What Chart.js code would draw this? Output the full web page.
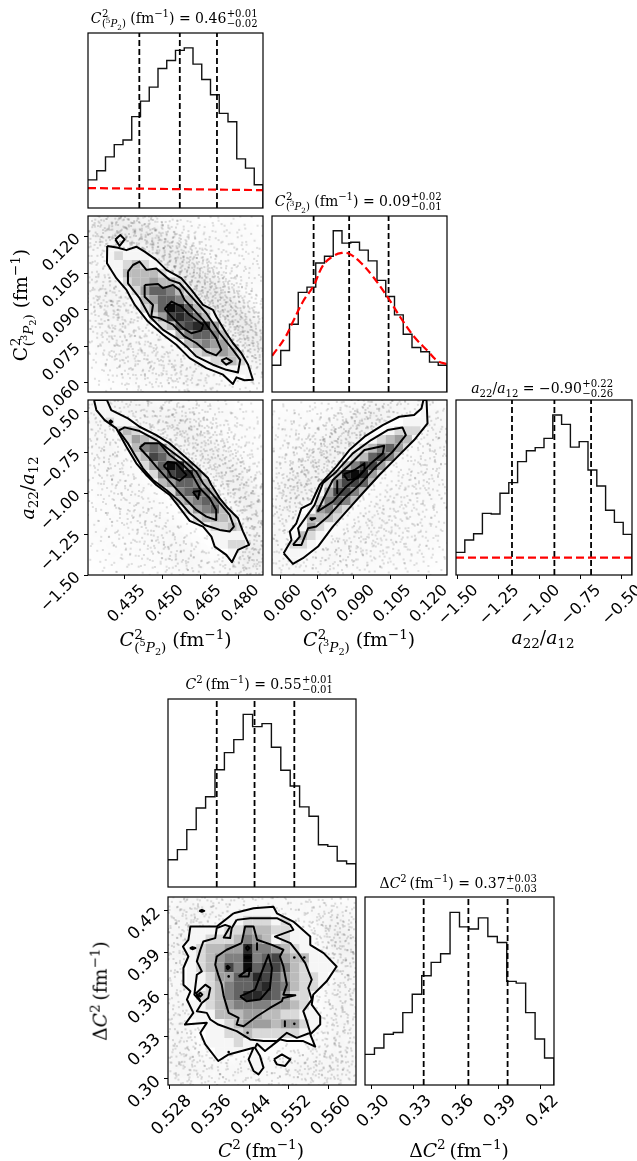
<!DOCTYPE html>
<html><head><meta charset="utf-8">
<script src="https://cdn.jsdelivr.net/npm/chart.js@4"></script>
<style>
html,body{margin:0;padding:0;background:#fff;}
#page{position:relative;width:637px;height:1161px;overflow:hidden;background:#fff;}
canvas{position:absolute;}
.t{position:absolute;white-space:nowrap;font-family:"DejaVu Serif",serif;color:#000;transform:translate(-50%,-50%);line-height:1;}
.t.v{transform:translate(-50%,-50%) rotate(-90deg);}
.title{font-size:14px;}
.lab{font-size:18.8px;}
.st{display:inline-flex;flex-direction:column;vertical-align:middle;font-size:.72em;line-height:.98;text-align:left;margin:0 .16em 0 .04em;}
sup,sub{font-size:.72em;line-height:0;}
</style></head><body><div id="page"></div>
<script>
// ---------- axis ranges and ticks ----------
const rangeC5=[0.4205,0.4897], ticksC5=[0.435,0.45,0.465,0.48], labelsC5=['0.435','0.450','0.465','0.480'];
const rangeC3=[0.0564,0.1283], ticksC3=[0.06,0.075,0.09,0.105,0.12], labelsC3=['0.060','0.075','0.090','0.105','0.120'];
const rangeA=[-1.5,-0.428], rangeAx=[-1.508,-0.433], ticksA=[-1.5,-1.25,-1,-0.75,-0.5], labelsA=['\u22121.50','\u22121.25','\u22121.00','\u22120.75','\u22120.50'];
const rangeC2=[0.5277,0.5655], ticksC2=[0.528,0.536,0.544,0.552,0.56], labelsC2=['0.528','0.536','0.544','0.552','0.560'];
const rangeD=[0.2957,0.4297], ticksD=[0.30,0.33,0.36,0.39,0.42], labelsD=['0.30','0.33','0.36','0.39','0.42'];

// ---------- 1-D histograms (% of panel height, 20 bins) ----------
const histC5=[16.1,21.3,29.2,36.2,38.9,52.2,61.1,69.1,79.7,84.3,90.1,91.5,82.2,73.4,64.7,54.1,49.3,28.1,22.8,13.3];
const histC3=[15.2,23.6,38.5,56.6,59.6,73.3,77.1,91.6,84.6,85.1,80.6,74.5,63.4,54.3,43.8,32.8,25.3,22.9,17,15.2];
const histA=[12.95,20,23.6,35.2,34.9,46.7,52.8,64.8,71,72.8,78.1,91.4,86.1,73.1,76.2,60,50.9,37,30.1,23.2];
const histC2=[14.5,19.9,30.5,42,48,62.4,71.5,78.4,91.8,85.3,86.9,74.3,62.1,53.7,42.6,37.6,22.5,21.6,13.8,12.4];
const histD=[16.3,19.7,27,27.9,38.5,48.3,58.1,65.2,69.8,91.8,84.1,83,88.9,79,75.8,55.1,54.2,38.5,24.5,14.4];
const quantC5=[0.4408,0.4568,0.4715], quantC3=[0.0735,0.0881,0.1043], quantA=[-1.166,-0.907,-0.683], quantC2=[0.5375,0.5451,0.5531], quantD=[0.3373,0.369,0.3968];
const priorC5=[[0.4205,11.4],[0.4897,10.2]];
const priorA=[[-1.508,9.9],[-0.433,9.9]];
const priorC3=[[.05645,20.6],[.0616,30.5],[.06505,40],[.06914,51.4],[.0735,60.4],[.0773,71.8],[.0814,77.1],[.0851,79],[.0881,78.5],[.093,73.3],[.0978,65.7],[.1039,53.9],[.1094,41.9],[.1148,31.4],[.1203,23.4],[.1244,17.7],[.1283,15.8]];

// ---------- 2-D density cells, rows top to bottom, level 0-9 ----------
const cellsC5C3=["00000000000000000000","00000000000000000000","00000000000000000000","00111100000000000000","00121110000000000000","00112321000000000000","00013333210000000000","00002334332100000000","00001246653200000000","00000134665321000000","00000123698632100000","00000002478753100000","00000000236788420000","00000000013566531000","00000000001345442100","00000000000123343210","00000000000011223210","00000000000000111111","00000000000000000011","00000000000000000000"];
const cellsC5A=["01100000000000000000","01110000000000000000","00211000000000000000","00023210000000000000","00012432100000000000","00001356521000000000","00000237642100000000","00000124698420000000","00000012578852100000","00000001346653100000","00000000125675310000","00000000013456531000","00000000001245632100","00000000000123332100","00000000000011223210","00000000000000111110","00000000000000112210","00000000000000001100","00000000000000000000","00000000000000000000"];
const cellsC3A=["00000000000000000100","00000000000000000100","00000000000000011100","00000000000001222100","00000000000123431100","00000000012356420000","00000000023675310000","00000001357742000000","00000013898420000000","00000025776310000000","00000147753100000000","00000256531000000000","00001453210000000000","00013332000000000000","00014210000000000000","00132100000000000000","00221000000000000000","01110000000000000000","01100000000000000000","00000000000000000000"];
const cellsC2D=["00000000000000000000","00000001111100000000","00000111222121000000","00111122433221110000","00112223543121100000","00123344855432110000","01123455956743311100","00123475967753211110","00112446687643221000","00112356678653221000","00022356887642210000","00112345555443210000","00111333443322110000","00011123444344210000","00001122322222110000","00001112111100000000","00000111110000000000","00000000110000000000","00000000010000000000","00000000000000000000"];

// ---------- contours ----------
const c1a=[[.4281,.1162],[.4324,.1155],[.4357,.1145],[.4396,.1159],[.4429,.1139],[.4475,.1105],[.4515,.1064],[.4574,.1030],[.4614,.0982],[.4660,.0920],[.4699,.0900],[.4712,.0873],[.4752,.0804],[.4778,.0764],[.4811,.0723],[.4838,.0675],[.4857,.0613],[.4824,.0611],[.4792,.0623],[.4778,.0596],[.4739,.0634],[.4673,.0661],[.4607,.0702],[.4554,.0757],[.4502,.0798],[.4442,.0852],[.4390,.0920],[.4357,.0982],[.4317,.1030],[.4280,.1091]];
const c1b=[[.4363,.1057],[.4383,.1084],[.4409,.1098],[.4436,.1064],[.4475,.1070],[.4528,.1023],[.4567,.1009],[.4614,.0954],[.4673,.0886],[.4726,.0804],[.4778,.0736],[.4807,.0695],[.4798,.0643],[.4752,.0654],[.4699,.0675],[.4633,.0709],[.4594,.0750],[.4554,.0784],[.4502,.0818],[.4449,.0873],[.4409,.0948],[.4363,.1009]];
const c1c=[[.4429,.1002],[.4482,.1006],[.4502,.0989],[.4541,.1002],[.4567,.0982],[.4587,.0941],[.4660,.0859],[.4712,.0784],[.4732,.0736],[.4712,.0713],[.4673,.0729],[.4633,.0764],[.4587,.0791],[.4541,.0839],[.4488,.0866],[.4455,.0873],[.4462,.0920],[.4429,.0954]];
const c1d=[[.4508,.0904],[.4535,.0934],[.4574,.0914],[.4607,.0879],[.4660,.0839],[.4653,.0815],[.4614,.0804],[.4581,.0825],[.4541,.0866]];
const c1e=[[.4313,.1189],[.4333,.1207],[.4350,.1189],[.4330,.1162]];
const c1f=[[.4732,.0693],[.4752,.0702],[.4774,.0689],[.4752,.0675]];

const c2a=[[.4229,-.4286],[.4238,-.4898],[.4271,-.5510],[.4317,-.6020],[.4357,-.7141],[.4396,-.8160],[.4436,-.8874],[.4475,-.9486],[.4528,-1.0098],[.4574,-1.1015],[.4607,-1.1688],[.4660,-1.2035],[.4693,-1.2646],[.4706,-1.3258],[.4752,-1.3768],[.4774,-1.4216],[.4798,-1.3462],[.4842,-1.3156],[.4818,-1.2340],[.4798,-1.1525],[.4759,-1.0913],[.4726,-1.0301],[.4693,-.9486],[.4680,-.9078],[.4633,-.8364],[.4581,-.7651],[.4528,-.6937],[.4475,-.6427],[.4409,-.5918],[.4363,-.5408],[.4297,-.4898],[.4280,-.4286]];
const c2b=[[.4326,-.6162],[.4350,-.5958],[.4409,-.6183],[.4475,-.6733],[.4528,-.7345],[.4581,-.7957],[.4633,-.8670],[.4660,-.9384],[.4699,-1.0098],[.4732,-1.0709],[.4765,-1.1321],[.4782,-1.2035],[.4765,-1.2340],[.4726,-1.2238],[.4666,-1.1933],[.4607,-1.1219],[.4567,-1.0505],[.4515,-.9792],[.4462,-.9180],[.4422,-.8466],[.4390,-.7651],[.4363,-.6937]];
const c2c=[[.4409,-.7202],[.4429,-.6937],[.4488,-.6937],[.4528,-.7651],[.4581,-.8262],[.4614,-.8772],[.4647,-.9690],[.4686,-1.0301],[.4712,-1.1015],[.4712,-1.1627],[.4673,-1.1423],[.4633,-1.1015],[.4594,-1.0403],[.4528,-.9282],[.4475,-.8364],[.4442,-.7753]];
const c2d=[[.4504,-.8324],[.4521,-.8059],[.4554,-.8160],[.4594,-.8874],[.4567,-.9221],[.4535,-.8976],[.4521,-.8568]];
const c2e=[[.4620,-.9894],[.4647,-.9853],[.4640,-1.0342]];
const c2f=[[.4288,-.5612],[.4295,-.5530],[.4301,-.5612],[.4295,-.5694]];

const c3a=[[.0612,-1.3666],[.0650,-1.4318],[.0691,-1.3972],[.0753,-1.3258],[.0814,-1.2035],[.0869,-1.1117],[.0930,-1.0098],[.1005,-.8874],[.1073,-.7855],[.1148,-.6733],[.1203,-.5714],[.1199,-.4286],[.1186,-.4286],[.1178,-.4796],[.1148,-.5204],[.1087,-.5306],[.1019,-.5816],[.0944,-.6529],[.0882,-.7345],[.0828,-.8364],[.0760,-.9486],[.0725,-1.0607],[.0685,-1.0913],[.0664,-1.1831],[.0637,-1.2340],[.0644,-1.2850]];
const c3b=[[.0650,-1.3156],[.0678,-1.2646],[.0671,-1.2137],[.0705,-1.1423],[.0739,-1.0709],[.0773,-.9384],[.0828,-.8670],[.0896,-.7549],[.0971,-.6733],[.1039,-.6121],[.1100,-.5958],[.1114,-.6427],[.1060,-.7447],[.0991,-.8364],[.0923,-.9486],[.0862,-1.0301],[.0794,-1.1423],[.0746,-1.2035],[.0712,-1.2137],[.0685,-1.3156]];
const c3c=[[.0750,-1.1117],[.0773,-1.0403],[.0814,-.9180],[.0882,-.8262],[.0944,-.7345],[.1025,-.7080],[.1019,-.7549],[.0971,-.8160],[.0910,-.9078],[.0862,-.9690],[.0814,-1.0505]];
const c3d=[[.0858,-.8833],[.0903,-.8568],[.0944,-.8160],[.0944,-.8568],[.0916,-.9078],[.0875,-.9180]];
const c3e=[[.0832,-.9241],[.0832,-.9996]];
const c3f=[[.0719,-1.1525],[.0742,-1.1525],[.0728,-1.1627]];

const c4a=[[.5409,.4181],[.5449,.4217],[.5489,.4228],[.5496,.4181],[.5529,.4122],[.5563,.4015],[.5563,.3956],[.5590,.3897],[.5616,.3802],[.5596,.3696],[.5569,.3601],[.5566,.3530],[.5583,.3447],[.5583,.3388],[.5563,.3317],[.5573,.3230],[.5549,.3270],[.5516,.3270],[.5502,.3282],[.5472,.3199],[.5456,.3251],[.5452,.3222],[.5462,.3163],[.5469,.3080],[.5459,.3033],[.5449,.3057],[.5439,.3140],[.5449,.3222],[.5399,.3175],[.5378,.3128],[.5352,.3246],[.5342,.3329],[.5355,.3400],[.5311,.3388],[.5328,.3471],[.5315,.3566],[.5322,.3625],[.5308,.3672],[.5308,.3791],[.5318,.3873],[.5307,.3944],[.5318,.3992],[.5322,.4086],[.5375,.4086]];
const c4b=[[.5415,.4134],[.5442,.4146],[.5496,.4146],[.5523,.4098],[.5529,.4063],[.5492,.4015],[.5523,.3968],[.5539,.3897],[.5553,.3826],[.5566,.3708],[.5559,.3648],[.5566,.3566],[.5549,.3483],[.5556,.3412],[.5563,.3329],[.5536,.3293],[.5516,.3329],[.5496,.3270],[.5469,.3270],[.5442,.3282],[.5415,.3341],[.5378,.3388],[.5362,.3424],[.5355,.3471],[.5335,.3483],[.5345,.3542],[.5358,.3578],[.5362,.3648],[.5352,.3672],[.5334,.3613],[.5342,.3554],[.5330,.3601],[.5335,.3743],[.5345,.3767],[.5335,.3838],[.5342,.3921],[.5348,.3980],[.5372,.4004],[.5375,.4075],[.5392,.4098],[.5402,.4086],[.5389,.4008],[.5402,.4004],[.5405,.4075]];
const c4c=[[.5425,.3968],[.5432,.4086],[.5449,.4086],[.5456,.3992],[.5486,.3956],[.5509,.3921],[.5502,.3873],[.5509,.3802],[.5516,.3672],[.5509,.3601],[.5533,.3596],[.5508,.3577],[.5506,.3554],[.5482,.3506],[.5456,.3447],[.5429,.3376],[.5415,.3388],[.5419,.3435],[.5399,.3471],[.5389,.3589],[.5385,.3672],[.5378,.3743],[.5372,.3814],[.5375,.3873],[.5395,.3921]];
const c4d=[[.5422,.3589],[.5452,.3637],[.5462,.3731],[.5479,.3885],[.5486,.3791],[.5482,.3648],[.5462,.3566],[.5435,.3554]];
const c4e=[[.5490,.3140],[.5506,.3175],[.5523,.3140],[.5512,.3092],[.5496,.3104]];
const c4f=[[.5340,.4198],[.5345,.4205],[.5350,.4198],[.5345,.4191]];
const c4g=[[.5321,.3933],[.5326,.3940],[.5332,.3933],[.5326,.3925]];
const c4h=[[.5394,.3795],[.5397,.3807],[.5401,.3795],[.5397,.3783]];
const c4i=[[.5433,.3933],[.5437,.3947],[.5441,.3933],[.5437,.3918]];
const c4j=[[.5430,.3866],[.5437,.3873],[.5443,.3866],[.5437,.3859]];
const c4k=[[.5456,.3968],[.5456,.3921]];
const c4l=[[.5419,.3731],[.5439,.3731],[.5442,.3790]];
const c4m=[[.5338,.3601],[.5342,.3615],[.5346,.3601],[.5342,.3587]];
const c4n=[[.5512,.3412],[.5512,.3376]];
const specks4=[[.5437,.3329],[.5399,.3192],[.5399,.3731],[.5531,.3866],[.5551,.3866],[.5531,.3393]];

// ---------- scattered samples ----------
const dots1=[[.4235,.1250],[.4262,.1212],[.4271,.1268],[.4289,.1231],[.4301,.1262],[.4243,.1187],[.4312,.1236],[.4335,.1258],[.4348,.1219],[.4367,.1244],[.4379,.1201],[.4392,.1262],[.4406,.1221],[.4421,.1187],[.4433,.1239],[.4447,.1172],[.4458,.1213],[.4469,.1146],[.4483,.1192],[.4496,.1131],[.4508,.1168],[.4519,.1107],[.4527,.1149],[.4541,.1088],[.4552,.1127],[.4563,.1066],[.4571,.1105],[.4584,.1042],[.4596,.1091],[.4608,.1024],[.4615,.1069],[.4629,.1003],[.4637,.1048],[.4648,.0981],[.4656,.1027],[.4668,.0962],[.4677,.1006],[.4689,.0945],[.4698,.0985],[.4707,.0927],[.4719,.0968],[.4728,.0903],[.4736,.0947],[.4749,.0881],[.4757,.0926],[.4768,.0862],[.4776,.0904],[.4788,.0838],[.4797,.0885],[.4806,.0815],[.4815,.0862],[.4827,.0796],[.4836,.0843],[.4847,.0772],[.4856,.0821],[.4866,.0748],[.4875,.0801],[.4884,.0727],[.4890,.0776],[.4872,.0694],[.4893,.0668],[.4881,.0632],[.4603,.1232],[.4658,.1178],[.4722,.1124],[.4781,.1063],[.4841,.0998],[.4732,.1209],[.4862,.1142],[.4547,.1253],[.4812,.1237],[.4889,.1052],[.4225,.1023],[.4252,.0987],[.4278,.1004],[.4234,.0912],[.4261,.0876],[.4305,.0948],[.4322,.0901],[.4289,.0824],[.4338,.0846],[.4247,.0785],[.4365,.0783],[.4312,.0742],[.4403,.0724],[.4378,.0688],[.4441,.0653],[.4268,.0683],[.4352,.0625],[.4496,.0706],[.4533,.0652],[.4587,.0603],[.4462,.0591],[.4641,.0627],[.4702,.0583],[.4765,.0572],[.4219,.1154],[.4221,.1087],[.4302,.1005],[.4345,.0958],[.4388,.0891],[.4432,.0832],[.4477,.0778],[.4523,.0741],[.4571,.0698],[.4618,.0664],[.4664,.0621]];
const dots2=[[.4312,-.4512],[.4345,-.4705],[.4378,-.4466],[.4402,-.5122],[.4431,-.4808],[.4459,-.5423],[.4487,-.5011],[.4503,-.5812],[.4528,-.5398],[.4551,-.6244],[.4569,-.5716],[.4586,-.6572],[.4603,-.6105],[.4618,-.7113],[.4637,-.6534],[.4651,-.7488],[.4668,-.6922],[.4682,-.7963],[.4697,-.7361],[.4712,-.8452],[.4726,-.7833],[.4739,-.8941],[.4751,-.8205],[.4768,-.9473],[.4779,-.8712],[.4792,-.9986],[.4805,-.9204],[.4818,-1.0532],[.4827,-.9713],[.4839,-1.1047],[.4851,-1.0205],[.4863,-1.1574],[.4872,-1.0681],[.4881,-1.2103],[.4891,-1.1195],[.4862,-1.2619],[.4878,-1.3117],[.4893,-1.2742],[.4854,-1.3588],[.4884,-1.3941],[.4869,-1.4402],[.4892,-1.4654],[.4831,-1.4127],[.4807,-1.4588],[.4823,-1.3533],[.4768,-1.4703],[.4624,-.4671],[.4712,-.5204],[.4781,-.6088],[.4845,-.7125],[.4888,-.8306],[.4736,-.4523],[.4862,-.5532],[.4594,-.5012],[.4222,-.5604],[.4241,-.6215],[.4268,-.6871],[.4304,-.7102],[.4229,-.7823],[.4281,-.8401],[.4335,-.8188],[.4372,-.9022],[.4256,-.9604],[.4312,-1.0221],[.4405,-1.0104],[.4437,-1.0712],[.4348,-1.1433],[.4477,-1.1525],[.4236,-1.1874],[.4391,-1.2406],[.4502,-1.2233],[.4532,-1.2704],[.4289,-1.3212],[.4441,-1.3508],[.4572,-1.3106],[.4601,-1.3722],[.4517,-1.4203],[.4643,-1.4307],[.4366,-1.4505],[.4684,-1.4704],[.4583,-1.4612],[.4218,-.4605],[.4253,-.5102]];
const dots3=[[.0605,-.9803],[.0632,-.8714],[.0658,-.9512],[.0689,-.8205],[.0701,-.9304],[.0724,-.7622],[.0745,-.8512],[.0768,-.7014],[.0792,-.7805],[.0812,-.6421],[.0836,-.7102],[.0858,-.5803],[.0881,-.6504],[.0904,-.5212],[.0927,-.5905],[.0953,-.4821],[.0981,-.5433],[.1012,-.4702],[.1045,-.4512],[.0752,-.5504],[.0687,-.6203],[.0621,-.7104],[.0583,-.8302],[.0643,-.5102],[.0838,-.4606],[.0578,-.6205],[.0596,-1.1203],[.0628,-1.0502],[.0651,-1.1005],[.0582,-1.2404],[.0609,-1.1812],[.0673,-1.0104],[.0714,-.9905],[.0746,-.9312],[.0778,-.8702],[.0803,-.8205],[.0847,-.7704],[.0872,-.7105],[.0916,-.6602],[.0958,-.6105],[.1003,-.5602],[.1052,-.5203],[.1111,-.4703],[.1158,-.4502],[.0731,-1.4105],[.0782,-1.3603],[.0823,-1.3104],[.0864,-1.2502],[.0908,-1.1905],[.0951,-1.1302],[.0996,-1.0603],[.1043,-.9902],[.1087,-.9204],[.1134,-.8403],[.1172,-.7705],[.1213,-.6906],[.1251,-.6104],[.0803,-1.4502],[.0871,-1.3903],[.0935,-1.3204],[.0989,-1.2505],[.1033,-1.1804],[.1092,-1.1105],[.1145,-1.0202],[.1198,-.9303],[.1246,-.8404],[.0942,-1.4604],[.1023,-1.3802],[.1084,-1.3002],[.1151,-1.2103],[.1218,-1.1004],[.1262,-.9804],[.1121,-1.4303],[.1186,-1.3404],[.1245,-1.2405],[.1258,-.5002],[.1226,-.5603],[.1272,-.7103],[.0596,-1.4605],[.0581,-1.3804],[.0665,-1.4703],[.0574,-1.3102]];
const dots4=[[.5289,.4203],[.5304,.4265],[.5286,.4084],[.5298,.4012],[.5283,.3947],[.5301,.3885],[.5295,.3821],[.5284,.3735],[.5297,.3654],[.5288,.3581],[.5301,.3512],[.5286,.3447],[.5305,.3391],[.5291,.3308],[.5312,.3274],[.5284,.3215],[.5308,.3152],[.5293,.3088],[.5316,.3041],[.5288,.2997],[.5312,.3941],[.5318,.4145],[.5331,.4213],[.5347,.4152],[.5362,.4231],[.5381,.4163],[.5398,.4252],[.5421,.4262],[.5453,.4275],[.5482,.4268],[.5513,.4235],[.5534,.4186],[.5558,.4241],[.5586,.4156],[.5604,.4212],[.5623,.4103],[.5641,.4188],[.5597,.4072],[.5612,.4011],[.5635,.4043],[.5648,.3962],[.5624,.3925],[.5608,.3952],[.5643,.3881],[.5629,.3826],[.5651,.3784],[.5634,.3712],[.5618,.3663],[.5646,.3621],[.5602,.3587],[.5628,.3534],[.5649,.3482],[.5607,.3441],[.5632,.3387],[.5612,.3312],[.5645,.3275],[.5592,.3216],[.5628,.3182],[.5576,.3152],[.5642,.3104],[.5598,.3061],[.5554,.3048],[.5621,.3012],[.5532,.2993],[.5485,.3021],[.5412,.3047],[.5376,.3012],[.5428,.2985],[.5345,.3071],[.5355,.3128],[.5587,.2987],[.5645,.3001],[.5532,.3183],[.5476,.3108],[.5418,.3103],[.5538,.3068]];

// ---------- text ----------
const subC5='(<sup>5</sup><i>P</i><sub>2</sub>)', subC3='(<sup>3</sup><i>P</i><sub>2</sub>)', unit='(fm<sup>\u22121</sup>)';
const stack=(a,b)=>`<span class="st"><span>${a}</span><span>${b}</span></span>`;
const titles=[
 [175,19,`<i>C</i>${stack('2',subC5)}\u2009${unit} = 0.46${stack('+0.01','\u22120.02')}`],
 [359,202,`<i>C</i>${stack('2',subC3)}\u2009${unit} = 0.09${stack('+0.02','\u22120.01')}`],
 [543,389,`<i>a</i><sub>22</sub>/<i>a</i><sub>12</sub> = \u22120.90${stack('+0.22','\u22120.26')}`],
 [260,685,`<i>C</i><sup>2</sup>\u2009${unit} = 0.55${stack('+0.01','\u22120.01')}`],
 [459,884,`\u0394<i>C</i><sup>2</sup>\u2009${unit} = 0.37${stack('+0.03','\u22120.03')}`]];
const xLabels=[
 [175.5,641,`<i>C</i>${stack('2',subC5)}\u2009${unit}`],
 [359,641,`<i>C</i>${stack('2',subC3)}\u2009${unit}`],
 [543,638,`<i>a</i><sub>22</sub>/<i>a</i><sub>12</sub>`],
 [261,1151,`<i>C</i><sup>2</sup>\u2009${unit}`],
 [459,1151,`\u0394<i>C</i><sup>2</sup>\u2009${unit}`]];
const yLabels=[
 [22,305,`C${stack('2',subC3)}\u2009${unit}`],
 [28,488,`<i>a</i><sub>22</sub>/<i>a</i><sub>12</sub>`],
 [101,991,`\u0394<i>C</i><sup>2</sup>\u2009${unit}`]];

// ---------- helpers ----------
const page=document.getElementById('page');
const mL=72,mB=62,mT=4,mR=14;
const framePlugin={id:'frame',afterDraw(c){const a=c.chartArea,x=c.ctx;x.save();x.strokeStyle='#000';x.lineWidth=1.2;x.strokeRect(a.left,a.top,a.right-a.left,a.bottom-a.top);x.restore();}};
const clipPlugin={id:'cellclip',
 beforeDatasetDraw(c,args){const d=c.data.datasets[args.index];if(d.clipIndex===undefined)return;
  const pts=c.getDatasetMeta(d.clipIndex).data,x=c.ctx;x.save();x.beginPath();pts.forEach((p,i)=>i?x.lineTo(p.x,p.y):x.moveTo(p.x,p.y));x.closePath();x.clip();},
 afterDatasetDraw(c,args){const d=c.data.datasets[args.index];if(d.clipIndex===undefined)return;c.ctx.restore();}};
// marker for the sampled cloud: a soft halo and a small grain of specks around each read sample
const grainMarks=[[-23,-7],[-19,14],[-15,-21],[-12,5],[-8,-9],[-5,22],[-3,-17],[0,8],[3,-3],[5,17],[8,-25],[10,-11],[13,13],[16,-2],[19,-18],[21,8],[24,-6],[-26,4],[-17,-2],[-9,16],[7,26],[18,21]];
const sprite=(()=>{const c=document.createElement('canvas');c.width=c.height=68;const x=c.getContext('2d');
 const g=x.createRadialGradient(34,34,0,34,34,34);g.addColorStop(0,'rgba(0,0,0,0.016)');g.addColorStop(1,'rgba(0,0,0,0)');
 x.fillStyle=g;x.fillRect(0,0,68,68);x.fillStyle='rgba(50,50,50,0.22)';
 grainMarks.forEach(([a,b])=>{x.beginPath();x.arc(34+a,34+b,0.9,0,7);x.fill();});return c;})();
function axis(range,ticks,labels,showLabels,horizontal,m,fontSize){
 const len=Math.max(0,...labels.map(s=>s.length));
 return {type:'linear',min:range[0],max:range[1],
  afterBuildTicks(s){s.ticks=ticks.map(v=>({value:v}));},
  afterFit(s){if(horizontal)s.height=m;else s.width=m;s.paddingLeft=s.paddingRight=s.paddingTop=s.paddingBottom=0;},
  grid:{drawOnChartArea:false,drawTicks:true,tickLength:4,tickColor:'#000',tickWidth:1},
  border:{display:false},
  ticks:{display:showLabels,autoSkip:false,minRotation:45,maxRotation:45,padding:horizontal?2:6,labelOffset:horizontal?len*fontSize*0.23:0,color:'#000',font:{family:'"DejaVu Sans"',size:fontSize},
   callback(v,i){return labels[i];}}};
}
function panel(o){
 const cv=document.createElement('canvas');
 const W=o.w+mL+mR+20,H=o.h+mT+mB;
 const fs=o.fs||16;
 cv.width=W;cv.height=H;cv.style.left=(o.left-mL)+'px';cv.style.top=(o.top-mT)+'px';cv.style.width=W+'px';cv.style.height=H+'px';
 page.appendChild(cv);
 const hasY=!!o.yTicks;
 new Chart(cv,{type:'scatter',data:{datasets:o.datasets},plugins:[framePlugin,clipPlugin],options:{
  responsive:false,animation:false,events:[],
  layout:{autoPadding:false,padding:{left:hasY?0:mL,right:mR+20,top:mT,bottom:0}},
  plugins:{legend:{display:false},tooltip:{enabled:false},title:{display:false}},
  scales:{
   x:axis(o.xr,o.xTicks,o.xLabels||[],!!o.xLabels,true,mB,fs),
   y:hasY?axis(o.yr,o.yTicks,o.yLabels||[],!!o.yLabels,false,mL,fs):{type:'linear',display:false,min:0,max:100}
  }}});
}
const pts=a=>a.map(p=>({x:p[0],y:p[1]}));
function histSets(vals,range,quant,prior,smooth){
 const n=vals.length,step=(range[1]-range[0])/n;
 const line=vals.map((v,i)=>({x:range[0]+i*step,y:v}));line.push({x:range[1],y:0});
 const sets=[{data:line,showLine:true,stepped:true,borderColor:'#111',borderWidth:1.4,pointRadius:0,order:3}];
 quant.forEach(q=>sets.push({data:[{x:q,y:0},{x:q,y:100}],showLine:true,borderColor:'#000',borderWidth:1.8,borderDash:[6,3],pointRadius:0,order:2}));
 if(prior)sets.push({data:pts(prior),showLine:true,tension:smooth?0.4:0,borderColor:'#f00',borderWidth:2.2,borderDash:[8,4],pointRadius:0,order:1});
 return sets;
}
function densitySets(rows,xr,yr,outer,inner,dots,specks){
 const sets=[];
 const close=a=>pts(a.concat([a[0]]));
 const loop=(a,lw)=>({data:a.length>2?close(a):pts(a),showLine:true,borderColor:'#000',borderWidth:lw,pointRadius:0,borderJoinStyle:'round',order:0});
 sets.push(loop(outer,2));
 inner.forEach(a=>sets.push(loop(a,2)));
 if(specks)sets.push({data:pts(specks),pointRadius:1.3,backgroundColor:'#000',borderWidth:0,order:0});
 const fillIndex=sets.length;
 sets.push({data:close(outer),showLine:true,fill:'shape',backgroundColor:'#fff',borderWidth:0,pointRadius:0,order:4});
 const nx=rows[0].length,ny=rows.length,dx=(xr[1]-xr[0])/nx,dy=(yr[1]-yr[0])/ny;
 const cells=[],cols=[];
 rows.forEach((r,j)=>{r.split('').forEach((ch,i)=>{const v=+ch;if(v===0)return;
  cells.push({x:xr[0]+(i+.5)*dx,y:yr[1]-(j+.5)*dy});
  const g=Math.round(246-(v-1)*29.5);cols.push(`rgb(${g},${g},${g})`);});});
 sets.push({data:cells,pointStyle:'rect',backgroundColor:cols,borderWidth:0,clipIndex:fillIndex,order:3,
  pointRadius(c){const s=c.chart.scales.x;return Math.abs(s.getPixelForValue(xr[0]+dx)-s.getPixelForValue(xr[0]))/2*Math.SQRT2+0.1;}});
 sets.push({data:pts(dots),pointStyle:sprite,pointRadius:1,borderWidth:0,order:5});
 return sets;
}

// ---------- panels ----------
const colA=88,colB=272,colC=456,rowA=33,rowB=216,rowC=400,sz=175;
panel({left:colA,top:rowA,w:sz,h:sz,xr:rangeC5,xTicks:ticksC5,datasets:histSets(histC5,rangeC5,quantC5,priorC5)});
panel({left:colA,top:rowB,w:sz,h:sz+1,xr:rangeC5,xTicks:ticksC5,yr:[.0563,.1285],yTicks:ticksC3,yLabels:labelsC3,
 datasets:densitySets(cellsC5C3,rangeC5,[.0563,.1285],c1a,[c1b,c1c,c1d,c1e,c1f],dots1)});
panel({left:colB,top:rowB,w:sz,h:sz+1,xr:rangeC3,xTicks:ticksC3,datasets:histSets(histC3,rangeC3,quantC3,priorC3,true)});
panel({left:colA,top:rowC,w:sz,h:sz,xr:rangeC5,xTicks:ticksC5,xLabels:labelsC5,yr:rangeA,yTicks:ticksA,yLabels:labelsA,
 datasets:densitySets(cellsC5A,rangeC5,rangeA,c2a,[c2b,c2c,c2d,c2e,c2f],dots2)});
panel({left:colB,top:rowC,w:sz,h:sz,xr:rangeC3,xTicks:ticksC3,xLabels:labelsC3,yr:rangeA,yTicks:ticksA,
 datasets:densitySets(cellsC3A,rangeC3,rangeA,c3a,[c3b,c3c,c3d,c3e,c3f],dots3)});
panel({left:colC,top:rowC,w:sz+1,h:sz,xr:rangeAx,xTicks:ticksA,xLabels:labelsA,datasets:histSets(histA,rangeAx,quantA,priorA)});
panel({left:168,top:699,w:188,h:188,xr:rangeC2,xTicks:ticksC2,datasets:histSets(histC2,rangeC2,quantC2)});
panel({left:168,top:897,w:188,h:188,fs:17,xr:rangeC2,xTicks:ticksC2,xLabels:labelsC2,yr:rangeD,yTicks:ticksD,yLabels:labelsD,
 datasets:densitySets(cellsC2D,rangeC2,rangeD,c4a,[c4b,c4c,c4d,c4e,c4f,c4g,c4h,c4i,c4j,c4k,c4l,c4m,c4n],dots4,specks4)});
panel({left:365,top:897,w:189,h:188,fs:17,xr:rangeD,xTicks:ticksD,xLabels:labelsD,datasets:histSets(histD,rangeD,quantD)});

// ---------- labels ----------
function put(list,cls){list.forEach(([x,y,h])=>{const e=document.createElement('div');e.className='t '+cls;e.style.left=x+'px';e.style.top=y+'px';e.innerHTML=h;page.appendChild(e);});}
put(titles,'title');put(xLabels,'lab');put(yLabels,'lab v');
</script></body></html>
